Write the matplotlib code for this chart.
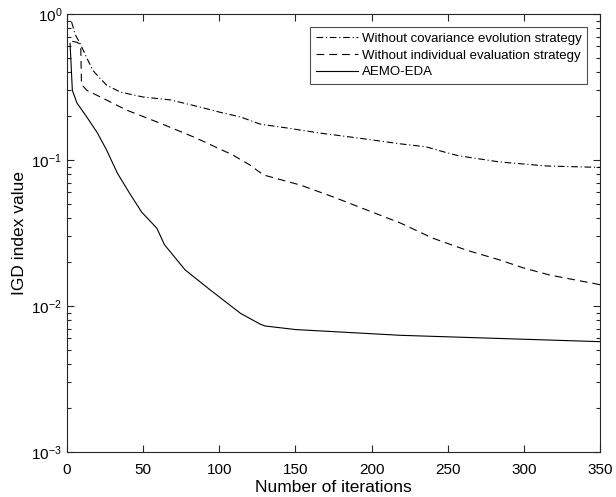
# IGD convergence curves for AEMO-EDA and its two ablated variants
import matplotlib
matplotlib.use("Agg")
import matplotlib.pyplot as plt
from matplotlib.ticker import LogLocator, FixedLocator

plt.rcParams['font.family'] = ['Liberation Sans', 'DejaVu Sans']
plt.rcParams['mathtext.fontset'] = 'custom'
plt.rcParams['mathtext.rm'] = 'Liberation Sans'
plt.rcParams['mathtext.default'] = 'regular'

# Without covariance evolution strategy (dash-dot)
cov_iter = [3, 5.5, 8.5, 13, 17, 22, 26, 35, 50, 68, 87, 100, 114, 127, 144,
            166, 190, 219, 236, 247, 257, 284, 315, 350]
cov_igd = [0.88, 0.72, 0.63, 0.50, 0.41, 0.36, 0.326, 0.292, 0.27, 0.258, 0.231,
           0.213, 0.197, 0.176, 0.166, 0.153, 0.142, 0.129, 0.123, 0.114, 0.107,
           0.097, 0.091, 0.089]

# Without individual evaluation strategy (dashed)
ind_iter = [3.5, 6.5, 9, 9.5, 13, 22, 39, 61, 83, 89, 109, 120, 129, 153, 175,
            197, 219, 240, 262, 284, 300, 317, 350]
ind_igd = [0.65, 0.64, 0.62, 0.33, 0.30, 0.27, 0.22, 0.179, 0.144, 0.135, 0.108,
           0.0926, 0.079, 0.0675, 0.0558, 0.0454, 0.037, 0.0292, 0.0242, 0.0207,
           0.0182, 0.0163, 0.014]

# AEMO-EDA (solid)
aemo_iter = [2, 3.5, 6.5, 13, 20, 26, 33, 41, 49, 59, 64, 77.5, 94, 114, 127,
             130, 150, 219, 350]
aemo_igd = [0.63, 0.30, 0.246, 0.197, 0.153, 0.117, 0.0815, 0.0594, 0.044,
            0.0341, 0.0263, 0.0177, 0.0129, 0.0089, 0.0075, 0.0073, 0.0069,
            0.0063, 0.0057]

labels = ['Without covariance evolution strategy',
          'Without individual evaluation strategy',
          'AEMO-EDA']

fig = plt.figure(figsize=(6.16, 4.97), dpi=100)
ax = fig.add_axes([0.1088, 0.0905, 0.8652, 0.8813])

ax.plot(cov_iter, cov_igd, color='black', lw=0.8, dashes=[6, 2.5, 1, 2.5], label=labels[0])
ax.plot(ind_iter, ind_igd, color='black', lw=0.8, dashes=[7, 4.5], label=labels[1])
ax.plot(aemo_iter, aemo_igd, color='black', lw=0.8, ls='-', label=labels[2])

ax.set_yscale('log')
ax.set_xlim(0, 350)
ax.set_ylim(1e-3, 1)
ax.xaxis.set_major_locator(FixedLocator([0, 50, 100, 150, 200, 250, 300, 350]))
ax.yaxis.set_major_locator(LogLocator(base=10, numticks=10))
ax.yaxis.set_minor_locator(LogLocator(base=10, subs=range(2, 10), numticks=10))

for s in ax.spines.values():
    s.set_color('#262626')
    s.set_linewidth(0.8)
ax.tick_params(which='both', direction='in', top=True, right=True,
               colors='#262626', labelcolor='black', width=0.8)
ax.tick_params(which='major', length=5, labelsize=11)
ax.tick_params(which='minor', length=3)
ax.tick_params(axis='x', pad=8)

ax.set_xlabel('Number of iterations', fontsize=12.5)
ax.set_ylabel('IGD index value', fontsize=12.5)
ax.xaxis.set_label_coords(0.5, -0.065, transform=ax.transAxes)
ax.yaxis.set_label_coords(-0.075, 0.5)

leg = ax.legend(loc='upper right', fontsize=9.5, handlelength=3.2,
                frameon=True, fancybox=False, edgecolor='#262626',
                borderaxespad=1.0, labelspacing=0.35, handletextpad=0.3,
                borderpad=0.4)
leg.get_frame().set_linewidth(0.8)

fig.savefig('out.png', dpi=100)
